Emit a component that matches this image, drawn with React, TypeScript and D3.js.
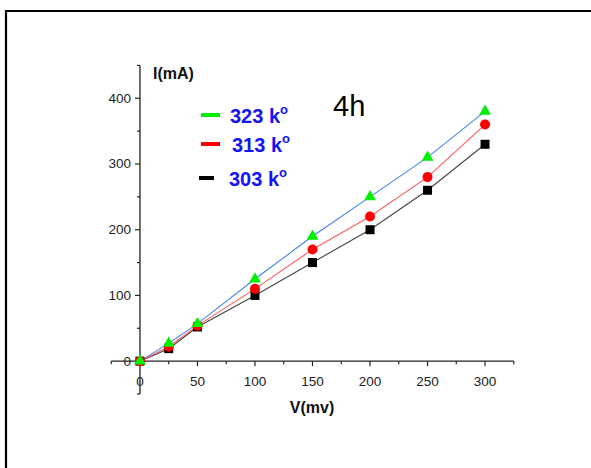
import * as d3 from "d3";

const voltages = [0, 25, 50, 100, 150, 200, 250, 300];
const current303 = [0, 19, 52, 100, 150, 200, 260, 330];
const current313 = [0, 22, 54, 110, 170, 220, 280, 360];
const current323 = [0, 27, 57, 125, 190, 250, 310, 380];
const xTicks = [0, 50, 100, 150, 200, 250, 300];
const yTicks = [0, 100, 200, 300, 400];
const legendLabels = ["323 k", "313 k", "303 k"];

const W = 591;
const H = 468;
const font = "Liberation Sans, Arial, sans-serif";

export default function App() {
  const x = d3.scaleLinear().domain([-25, 325]).range([111.2, 513.8]);
  const y = d3.scaleLinear().domain([-50, 450]).range([394, 65.4]);
  const line = d3
    .line<number>()
    .x((_, i) => x(voltages[i]))
    .y((d) => y(d));

  const xMinor = d3.range(-25, 326, 25).filter((v) => v % 50 !== 0);
  const yMinor = d3.range(-50, 451, 50).filter((v) => v % 100 !== 0);
  const axisColor = "#222";

  const series = [
    { data: current303, line: "#444", fill: "#000", shape: "square" },
    { data: current313, line: "#ff5a5a", fill: "#ff0000", shape: "circle" },
    { data: current323, line: "#3f86f0", fill: "#00f000", shape: "triangle" },
  ];
  const legendColors = ["#00f000", "#ff0000", "#000"];
  const legendY = [115, 144, 178];
  const legendX = [230, 232, 229];

  const tri = d3.symbol(d3.symbolTriangle, 60)();

  return (
    <svg
      width={W}
      height={H}
      style={{ position: "absolute", left: 0, top: 0, background: "#fff" }}
      fontFamily={font}
    >
      <path d={`M6,${H} V11 H${W}`} fill="none" stroke="#000" strokeWidth={2.2} />

      {/* x axis */}
      <line x1={x(-25)} x2={x(325)} y1={y(0)} y2={y(0)} stroke={axisColor} strokeWidth={1.3} />
      {xTicks.map((t) => (
        <g key={"xt" + t}>
          <line x1={x(t)} x2={x(t)} y1={y(0)} y2={y(0) + 5} stroke={axisColor} strokeWidth={1.2} />
          <text x={x(t)} y={y(0) + 25} textAnchor="middle" fontSize={13.5} fill="#222">
            {t}
          </text>
        </g>
      ))}
      {xMinor.map((t) => (
        <line key={"xm" + t} x1={x(t)} x2={x(t)} y1={y(0)} y2={y(0) + 3} stroke={axisColor} strokeWidth={1.2} />
      ))}

      {/* y axis */}
      <line x1={x(0)} x2={x(0)} y1={y(-50)} y2={y(450)} stroke={axisColor} strokeWidth={1.3} />
      {yTicks.map((t) => (
        <g key={"yt" + t}>
          <line x1={x(0)} x2={x(0) - 5} y1={y(t)} y2={y(t)} stroke={axisColor} strokeWidth={1.2} />
          <text x={131} y={y(t) + 4.5} textAnchor="end" fontSize={13.5} fill="#222">
            {t}
          </text>
        </g>
      ))}
      {yMinor.map((t) => (
        <line key={"ym" + t} x1={x(0)} x2={x(0) - 3} y1={y(t)} y2={y(t)} stroke={axisColor} strokeWidth={1.2} />
      ))}

      <text x={153} y={79} fontSize={16} fontWeight="bold" fill="#111">
        I(mA)
      </text>
      <text x={312} y={413} textAnchor="middle" fontSize={16} fontWeight="bold" fill="#111">
        V(mv)
      </text>
      <text x={333} y={116} fontSize={29} fill="#000">
        4h
      </text>

      {/* lines */}
      {series.map((s, i) => (
        <path key={"l" + i} d={line(s.data) || ""} fill="none" stroke={s.line} strokeWidth={1.1} />
      ))}

      {/* markers */}
      {series.map((s, i) =>
        s.data.map((v, j) => {
          const cx = x(voltages[j]);
          const cy = y(v);
          if (s.shape === "square")
            return <rect key={`m${i}-${j}`} x={cx - 4.5} y={cy - 4.5} width={9} height={9} fill={s.fill} />;
          if (s.shape === "circle")
            return <circle key={`m${i}-${j}`} cx={cx} cy={cy} r={5} fill={s.fill} />;
          return <path key={`m${i}-${j}`} d={tri || ""} transform={`translate(${cx},${cy})`} fill={s.fill} />;
        })
      )}

      {/* legend */}
      {legendLabels.map((lab, i) => (
        <g key={"lg" + i}>
          <line
            x1={i === 2 ? 199 : 201}
            x2={i === 2 ? 214 : 220}
            y1={legendY[i]}
            y2={legendY[i]}
            stroke={legendColors[i]}
            strokeWidth={4}
          />
          <text x={legendX[i]} y={legendY[i] + 8} fontSize={20} fontWeight="bold" fill="#1414f5">
            {lab}
            <tspan dy={-9} fontSize={13}>
              o
            </tspan>
          </text>
        </g>
      ))}
    </svg>
  );
}
